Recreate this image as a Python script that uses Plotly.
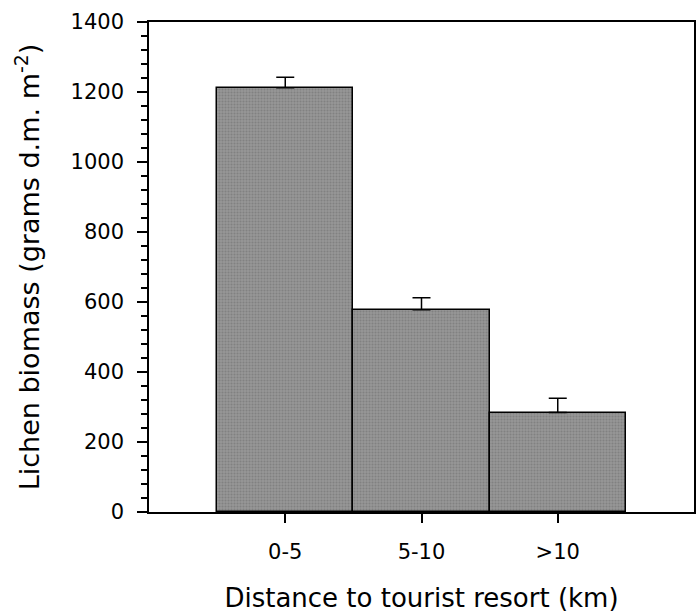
import plotly.graph_objects as go

categories = ["0-5", "5-10", ">10"]
biomass = [1212, 578, 284]
error_plus = [30, 34, 41]
y_ticks = [0, 200, 400, 600, 800, 1000, 1200, 1400]

FONT = "DejaVu Sans"

fig = go.Figure()
fig.add_trace(go.Bar(
    x=categories,
    y=biomass,
    width=1.0,
    marker=dict(color="#8e8e8e", line=dict(color="black", width=1.5),
                pattern=dict(shape=".", fgcolor="#6c6c6c", bgcolor="#969696", size=3, solidity=0.35)),
    error_y=dict(type="data", array=error_plus, arrayminus=[0, 0, 0], symmetric=False,
                 color="black", thickness=1.5, width=9),
    showlegend=False,
))

fig.update_layout(
    width=698, height=615,
    margin=dict(l=149, r=2, t=22, b=103),
    paper_bgcolor="white", plot_bgcolor="white",
    font=dict(family=FONT, color="black"),
    bargap=0,
)
fig.update_xaxes(
    type="category", range=[-1, 3],
    showline=True, linecolor="black", linewidth=1.5, mirror=True,
    ticks="outside", ticklen=9, tickwidth=1.5, tickcolor="black",
    tickfont=dict(size=21, family=FONT), ticklabelstandoff=11,
    showgrid=False, zeroline=False,
    title=dict(text="Distance to tourist resort (km)", font=dict(size=26, family=FONT), standoff=26),
)
fig.update_yaxes(
    range=[0, 1400], tickvals=y_ticks,
    showline=True, linecolor="black", linewidth=1.5, mirror=True,
    ticks="outside", ticklen=10, tickwidth=1.5, tickcolor="black",
    minor=dict(dtick=40, ticks="outside", ticklen=6, tickwidth=1.5, tickcolor="black"),
    tickfont=dict(size=21, family=FONT), ticklabelstandoff=9,
    showgrid=False, zeroline=False,
    title=dict(text="Lichen biomass (grams d.m. m<sup>-2</sup>)", font=dict(size=27, family=FONT), standoff=23),
)

fig.write_html("out.html")
